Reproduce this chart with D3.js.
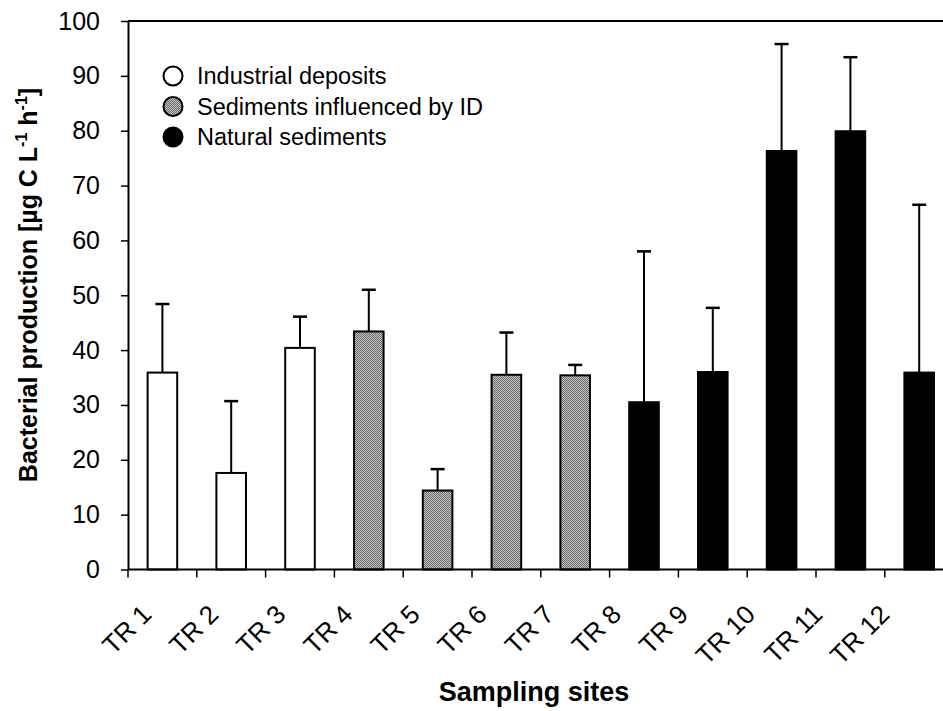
<!DOCTYPE html>
<html>
<head>
<meta charset="utf-8">
<script src="https://cdn.jsdelivr.net/npm/d3@7"></script>
<style>
  body { margin: 0; background: #fff; }
  text { font-family: "Liberation Sans", Arial, sans-serif; }
</style>
</head>
<body>
<div id="vis"></div>
<script>
const sites = ["TR 1", "TR 2", "TR 3", "TR 4", "TR 5", "TR 6", "TR 7", "TR 8", "TR 9", "TR 10", "TR 11", "TR 12"];
const groups = ["ID", "ID", "ID", "SID", "SID", "SID", "SID", "NS", "NS", "NS", "NS", "NS"];
const means = [35.9, 17.6, 40.4, 43.4, 14.4, 35.5, 35.4, 30.5, 36.0, 76.3, 79.9, 35.9];
const upper = [48.4, 30.7, 46.1, 51.0, 18.3, 43.2, 37.3, 58.0, 47.7, 95.8, 93.4, 66.5];
const yTicks = [0, 10, 20, 30, 40, 50, 60, 70, 80, 90, 100];
const legendLabels = ["Industrial deposits", "Sediments influenced by ID", "Natural sediments"];
const legendGroups = ["ID", "SID", "NS"];

const W = 943, H = 711;
const margin = { top: 21, left: 128 };
const plotRight = 953.6, plotBottom = 569.5;

const svg = d3.select("#vis").append("svg")
  .attr("width", W).attr("height", H)
  .style("display", "block");

svg.append("rect").attr("width", W).attr("height", H).attr("fill", "#fff");

// dithered gray fill
const defs = svg.append("defs");
const pat = defs.append("pattern")
  .attr("id", "dots").attr("patternUnits", "userSpaceOnUse")
  .attr("width", 2).attr("height", 2);
pat.append("rect").attr("width", 2).attr("height", 2).attr("fill", "#c8c8c8");
pat.append("rect").attr("width", 1).attr("height", 1).attr("fill", "#666");
pat.append("rect").attr("x", 1).attr("y", 1).attr("width", 1).attr("height", 1).attr("fill", "#666");

const fillOf = { ID: "#fff", SID: "url(#dots)", NS: "#000" };

const x = d3.scaleBand().domain(sites).range([margin.left, plotRight]).padding(0);
const y = d3.scaleLinear().domain([0, 100]).range([plotBottom, margin.top]);
const barW = x.bandwidth() * 0.43;

// frame top line
svg.append("line")
  .attr("x1", margin.left).attr("x2", W)
  .attr("y1", y(100)).attr("y2", y(100))
  .attr("stroke", "#000").attr("stroke-width", 2);

// Y axis
const yAxis = svg.append("g")
  .attr("transform", `translate(${margin.left},0)`)
  .call(d3.axisLeft(y).tickValues(yTicks).tickSizeInner(7).tickSizeOuter(0).tickPadding(21));
yAxis.select(".domain").attr("stroke-width", 2);
yAxis.selectAll(".tick line").attr("stroke-width", 1.5);
yAxis.selectAll("text").attr("font-size", 25).attr("fill", "#000");

// error bars (behind bars)
const err = svg.append("g");
sites.forEach((s, i) => {
  const cx = x(s) + x.bandwidth() / 2;
  err.append("line")
    .attr("x1", cx).attr("x2", cx)
    .attr("y1", y(means[i])).attr("y2", y(upper[i]))
    .attr("stroke", "#000").attr("stroke-width", 2);
  err.append("line")
    .attr("x1", cx - 7).attr("x2", cx + 7)
    .attr("y1", y(upper[i])).attr("y2", y(upper[i]))
    .attr("stroke", "#000").attr("stroke-width", 2.5);
});

// bars
svg.append("g").selectAll("rect")
  .data(sites)
  .enter()
  .append("rect")
  .attr("x", d => x(d) + (x.bandwidth() - barW) / 2)
  .attr("width", barW)
  .attr("y", (d, i) => y(means[i]))
  .attr("height", (d, i) => plotBottom - y(means[i]))
  .attr("fill", (d, i) => fillOf[groups[i]])
  .attr("stroke", "#000")
  .attr("stroke-width", 2);

// X axis line and ticks at band boundaries
svg.append("line")
  .attr("x1", margin.left).attr("x2", W)
  .attr("y1", plotBottom).attr("y2", plotBottom)
  .attr("stroke", "#000").attr("stroke-width", 2);

svg.append("g").selectAll("line")
  .data(sites)
  .enter()
  .append("line")
  .attr("x1", d => x(d)).attr("x2", d => x(d))
  .attr("y1", plotBottom).attr("y2", plotBottom + 8)
  .attr("stroke", "#000").attr("stroke-width", 1.5);

// rotated tick labels
const lx = d3.scalePoint().domain(sites).range([153, 891]);
svg.append("g").selectAll("text")
  .data(sites)
  .enter()
  .append("text")
  .attr("transform", d => `translate(${lx(d)},616) rotate(-45)`)
  .attr("text-anchor", "end")
  .attr("font-size", 26)
  .attr("fill", "#000")
  .text(d => d);

// axis titles
svg.append("text")
  .attr("x", 534).attr("y", 701)
  .attr("text-anchor", "middle")
  .attr("font-size", 27)
  .attr("font-weight", "bold")
  .text("Sampling sites");

const yt = svg.append("text")
  .attr("transform", "translate(37,285) rotate(-90)")
  .attr("text-anchor", "middle")
  .attr("font-size", 25)
  .attr("font-weight", "bold");
yt.append("tspan").text("Bacterial production [µg C L");
yt.append("tspan").attr("font-size", 16).attr("dy", -10).text("-1");
yt.append("tspan").attr("dy", 10).text(" h");
yt.append("tspan").attr("font-size", 16).attr("dy", -10).text("-1");
yt.append("tspan").attr("dy", 10).text("]");

// LEGEND
const legend = svg.append("g").attr("transform", "translate(173,76)");
legendLabels.forEach((lab, i) => {
  legend.append("circle")
    .attr("cx", 0).attr("cy", i * 30.5)
    .attr("r", 9.5)
    .attr("fill", fillOf[legendGroups[i]])
    .attr("stroke", "#000").attr("stroke-width", 2);
  legend.append("text")
    .attr("x", 24).attr("y", i * 30.5 + 8)
    .attr("font-size", 23.5)
    .attr("fill", "#000")
    .text(lab);
});
</script>
</body>
</html>
